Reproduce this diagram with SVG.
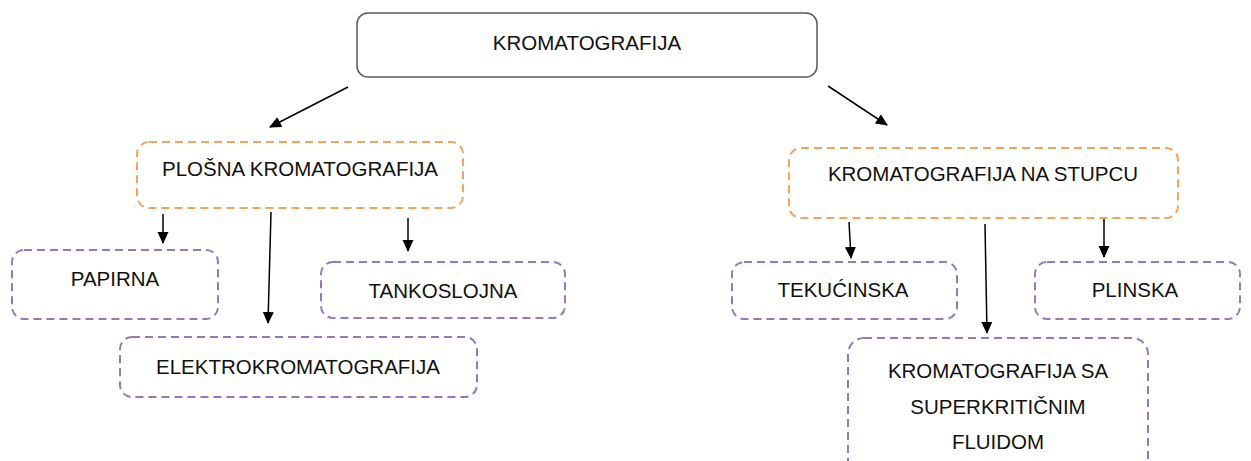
<svg xmlns="http://www.w3.org/2000/svg" width="1251" height="461" viewBox="0 0 1251 461">
<style>
.t{font-family:"Liberation Sans",Arial,sans-serif;font-size:20.5px;fill:#111;text-anchor:middle;dominant-baseline:central}
.main{fill:#fff;stroke:#595959;stroke-width:1.5}
.or{fill:#fff;stroke:#F5A35E;stroke-width:2;stroke-dasharray:8 5}
.pu{fill:#fff;stroke:#9479BC;stroke-width:2;stroke-dasharray:8 5}
.c{stroke:#000;stroke-width:1.5;fill:none;marker-end:url(#ah)}
</style>
<defs>
<marker id="ah" markerWidth="12" markerHeight="12" refX="11" refY="6" orient="auto" markerUnits="userSpaceOnUse">
<path d="M0,0.5 L12,6 L0,11.5 Z" fill="#000"/>
</marker>
</defs>
<rect width="1251" height="461" fill="#fff"/>
<g id="connectors">
<line class="c" x1="348" y1="87" x2="270" y2="127"/>
<line class="c" x1="828" y1="86" x2="887" y2="125"/>
<line class="c" x1="163" y1="214" x2="163" y2="243"/>
<line class="c" x1="271" y1="212" x2="268" y2="323"/>
<line class="c" x1="408" y1="218" x2="408" y2="251"/>
<line class="c" x1="849" y1="222" x2="851" y2="258"/>
<line class="c" x1="985" y1="224" x2="987" y2="333"/>
<line class="c" x1="1104" y1="219" x2="1104" y2="257"/>
</g>
<g id="n-root">
<rect class="main" x="357" y="13" width="460" height="64" rx="11"/>
<text class="t" x="587" y="42">KROMATOGRAFIJA</text>
</g>
<g id="n-plosna">
<rect class="or" x="137" y="142" width="326" height="66" rx="12"/>
<text class="t" x="300" y="168">PLOŠNA KROMATOGRAFIJA</text>
</g>
<g id="n-stupac">
<rect class="or" x="789" y="148" width="389" height="70" rx="12"/>
<text class="t" x="983" y="173">KROMATOGRAFIJA NA STUPCU</text>
</g>
<g id="n-papirna">
<rect class="pu" x="12" y="250" width="206" height="69" rx="12"/>
<text class="t" x="115" y="278">PAPIRNA</text>
</g>
<g id="n-tankoslojna">
<rect class="pu" x="321" y="262" width="244" height="56" rx="12"/>
<text class="t" x="443" y="290">TANKOSLOJNA</text>
</g>
<g id="n-elektro">
<rect class="pu" x="120" y="337" width="357" height="60" rx="12"/>
<text class="t" x="298" y="366">ELEKTROKROMATOGRAFIJA</text>
</g>
<g id="n-tekucinska">
<rect class="pu" x="732" y="262" width="225" height="57" rx="12"/>
<text class="t" x="843" y="289">TEKUĆINSKA</text>
</g>
<g id="n-plinska">
<rect class="pu" x="1035" y="262" width="205" height="57" rx="12"/>
<text class="t" x="1135" y="289">PLINSKA</text>
</g>
<g id="n-superkriticni">
<rect class="pu" x="848" y="338" width="300" height="140" rx="16"/>
<text class="t" x="998" y="370">KROMATOGRAFIJA SA</text>
<text class="t" x="998" y="406">SUPERKRITIČNIM</text>
<text class="t" x="998" y="441">FLUIDOM</text>
</g>
</svg>
